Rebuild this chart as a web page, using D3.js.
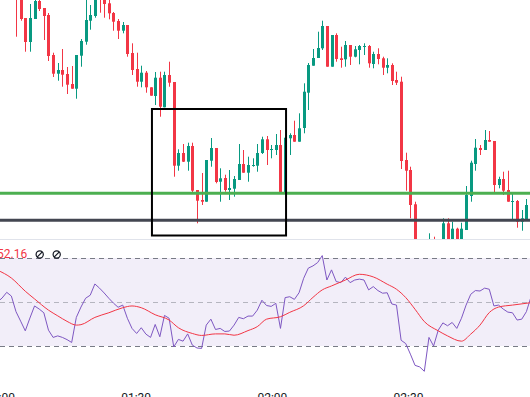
<!DOCTYPE html>
<html>
<head>
<meta charset="utf-8">
<script src="https://cdn.jsdelivr.net/npm/d3@7"></script>
<style>
  html, body { margin: 0; padding: 0; background: #fff; overflow: hidden; }
  svg { display: block; font-family: Roboto, "Noto Sans", sans-serif; }
</style>
</head>
<body>
<div id="chart"></div>
<script>
// ── Candles: one bar per minute, bar 0 is the first one on screen ─────────
const open = [
  2002.5, 2000.6, 1998.2, 1995.8, 1998.1, 1999.9, 1999.2, 1998.5, 1994.5, 1992.63,
  1993.0, 1992.6, 1991.6, 1991.13, 1994.43, 1995.83, 1997.93, 1998.4, 2001.0, 2000.5,
  1999.67, 1998.7, 1997.9, 1996.93, 1997.5, 1994.7, 1993.1, 1991.83, 1992.73, 1991.27,
  1990.4, 1992.23, 1989.27, 1992.5, 1991.8, 1983.43, 1984.7, 1983.83, 1985.4, 1981.0,
  1980.0, 1979.83, 1983.93, 1985.2, 1981.83, 1982.2, 1981.0, 1981.13, 1982.0, 1983.6,
  1982.73, 1983.4, 1983.43, 1984.7, 1986.07, 1985.0, 1985.0, 1985.5, 1980.6, 1986.17,
  1986.5, 1985.83, 1987.2, 1990.73, 1993.43, 1994.2, 1995.17, 1997.4, 1993.33, 1996.5,
  1994.17, 1994.07, 1995.5, 1994.33, 1995.0, 1995.33, 1995.4, 1993.6, 1994.6, 1994.17,
  1993.23, 1993.5, 1992.0, 1991.83, 1984.0, 1983.0, 1979.57, 1974.8, 1973.0, 1972.0,
  1975.5, 1974.5, 1975.0, 1977.67, 1975.5, 1977.13, 1975.6, 1977.0, 1980.4, 1983.6,
  1985.2, 1985.0, 1986.0, 1985.9, 1981.5, 1982.1, 1981.0, 1979.83, 1979.9, 1977.83, 1978.0, 1979.5
];
const high = [
  2003.0, 2001.0, 1998.2, 1999.6, 2000.2, 2000.1, 1999.2, 1998.7, 1994.73, 1993.7,
  1995.1, 1993.3, 1993.4, 1994.5, 1996.1, 2000.1, 1999.5, 2000.6, 2001.4, 2000.8,
  2000.0, 1998.8, 1998.1, 1997.8, 1997.5, 1995.67, 1994.73, 1993.43, 1992.9, 1991.27,
  1992.8, 1992.83, 1992.83, 1993.83, 1991.8, 1985.07, 1985.6, 1985.73, 1985.73, 1981.0,
  1982.7, 1984.0, 1986.2, 1985.2, 1983.17, 1982.53, 1983.0, 1982.4, 1985.6, 1985.0,
  1984.33, 1984.17, 1985.6, 1986.33, 1986.4, 1985.5, 1986.6, 1987.0, 1986.23, 1986.67,
  1987.93, 1988.67, 1991.67, 1993.7, 1995.1, 1996.83, 1997.93, 1997.4, 1996.5, 1996.67,
  1995.33, 1995.9, 1995.5, 1995.4, 1995.5, 1995.67, 1995.5, 1994.83, 1995.17, 1994.33,
  1994.17, 1993.67, 1992.83, 1992.33, 1984.73, 1983.33, 1979.83, 1975.0, 1973.5, 1976.67,
  1976.33, 1975.9, 1978.17, 1978.17, 1977.83, 1977.23, 1977.73, 1981.4, 1983.93, 1986.1,
  1985.5, 1987.0, 1986.9, 1985.9, 1982.33, 1982.83, 1982.93, 1980.67, 1980.0, 1979.0, 1980.1, 1982.43
];
const low = [
  1996.33, 1997.93, 1994.83, 1994.83, 1998.1, 1998.9, 1996.0, 1993.9, 1992.3, 1991.93,
  1991.33, 1990.6, 1991.13, 1990.13, 1993.33, 1995.53, 1997.03, 1998.23, 1998.73, 1998.23,
  1998.07, 1996.93, 1996.1, 1996.67, 1994.33, 1992.5, 1991.33, 1991.27, 1990.73, 1990.43,
  1989.5, 1988.33, 1989.27, 1991.33, 1982.33, 1982.93, 1983.8, 1982.93, 1980.73, 1977.67,
  1979.5, 1979.83, 1983.33, 1981.67, 1979.83, 1980.83, 1980.0, 1980.33, 1982.0, 1982.73,
  1981.83, 1983.33, 1982.83, 1984.6, 1983.5, 1984.17, 1984.5, 1980.77, 1980.6, 1984.5,
  1985.83, 1985.83, 1986.67, 1989.0, 1993.43, 1994.2, 1995.0, 1993.33, 1993.33, 1993.83,
  1993.23, 1993.33, 1993.5, 1994.27, 1993.57, 1994.5, 1993.23, 1993.17, 1993.57, 1992.5,
  1992.67, 1991.5, 1991.5, 1983.1, 1980.93, 1978.17, 1973.8, 1972.2, 1971.0, 1971.6,
  1974.2, 1974.2, 1974.8, 1975.0, 1975.3, 1975.4, 1975.4, 1977.0, 1979.83, 1982.93,
  1984.5, 1985.0, 1985.83, 1980.67, 1981.17, 1980.5, 1979.83, 1978.07, 1977.23, 1976.93, 1978.0, 1979.3
];
const close = [
  2000.8, 1998.1, 1995.8, 1998.2, 1999.9, 1999.1, 1998.4, 1994.4, 1992.63, 1993.0,
  1992.53, 1991.53, 1991.13, 1994.5, 1995.9, 1998.0, 1998.5, 2000.2, 2000.2, 1999.6,
  1998.67, 1997.83, 1996.93, 1997.5, 1994.6, 1993.0, 1991.83, 1992.73, 1991.27, 1990.43,
  1992.23, 1989.33, 1992.5, 1991.73, 1983.43, 1984.7, 1983.83, 1985.4, 1980.93, 1979.93,
  1979.83, 1984.0, 1985.2, 1981.8, 1982.17, 1981.0, 1981.2, 1982.1, 1983.6, 1982.73,
  1983.5, 1983.5, 1984.7, 1986.07, 1985.0, 1985.1, 1985.5, 1980.77, 1986.23, 1986.5,
  1985.83, 1987.17, 1990.83, 1993.5, 1994.2, 1995.2, 1997.4, 1993.33, 1996.5, 1994.1,
  1994.0, 1995.5, 1994.33, 1995.07, 1995.4, 1995.4, 1993.67, 1994.6, 1994.1, 1993.23,
  1993.5, 1991.9, 1991.73, 1983.9, 1982.93, 1979.5, 1974.8, 1973.0, 1972.0, 1975.5,
  1974.5, 1975.7, 1977.67, 1975.5, 1977.13, 1975.6, 1977.13, 1980.5, 1983.73, 1985.23,
  1985.0, 1986.0, 1985.83, 1981.5, 1982.1, 1980.93, 1979.83, 1979.9, 1977.83, 1978.17, 1979.5, 1981.0
];

// ── RSI (one value per bar, starting 4 bars before bar 0) ────────────────
const rsiFirstBar = -4;
const rsi = [
  50.0, 51.8, 54.4, 52.7,
  45.6, 41.3, 36.9, 42.7, 48.2, 46.8, 45.1, 37.2, 33.9, 34.6,
  33.9, 32.9, 31.6, 43.0, 47.7, 51.7, 53.1, 58.2, 56.3, 54.1,
  51.7, 49.5, 47.6, 48.6, 42.6, 38.0, 35.7, 38.3, 35.4, 33.9,
  39.8, 34.2, 43.9, 42.6, 29.6, 33.0, 32.2, 35.5, 30.4, 29.1,
  28.9, 39.5, 42.2, 37.5, 38.0, 36.6, 36.8, 39.5, 43.0, 42.4,
  43.6, 43.6, 46.3, 50.8, 48.4, 48.0, 49.4, 38.0, 52.0, 52.4,
  51.2, 54.2, 60.8, 65.4, 66.4, 67.9, 71.1, 60.0, 64.6, 59.3,
  58.8, 61.3, 58.8, 60.0, 60.4, 60.0, 55.5, 57.0, 55.2, 54.0,
  54.2, 49.1, 48.6, 32.6, 31.1, 26.3, 21.2, 20.5, 18.5, 33.9,
  30.0, 37.2, 40.5, 39.2, 40.7, 38.0, 42.6, 48.6, 53.5, 55.2,
  55.0, 56.3, 55.8, 48.2, 48.6, 46.8, 45.4, 45.1, 41.8, 42.2, 45.6, 52.4
];

// ── RSI moving average, read at a subset of bars ────────────────────────
const maBar = [-4, -1, 2, 4, 7, 9, 11, 13, 14, 17, 20, 23, 25, 27, 30, 33, 35, 38, 40, 43,
  45, 47, 50, 52, 54, 57, 59, 62, 64, 66, 68, 71, 74, 77, 80, 82, 84, 86, 88, 91,
  93, 96, 98, 100, 102, 104, 107, 111];
const maVal = [64.5, 60.9, 54.9, 51.4, 46.3, 43.7, 41.2, 39.5, 39.7, 43.0, 45.1, 47.4, 48.2, 47.4, 44.2, 41.8, 38.3, 35.7, 34.8, 35.5,
  35.5, 34.9, 37.0, 38.8, 42.2, 43.3, 45.3, 48.3, 52.1, 55.5, 57.3, 60.0, 62.6, 61.4, 58.1, 55.8, 52.0, 46.7, 41.1, 36.9,
  34.6, 32.2, 35.4, 39.5, 45.2, 47.7, 48.6, 49.7];

// ── Drawings and labels ─────────────────────────────────────────────────
const supportLevel = 1980.67;
const lowLevel = 1977.97;
const boxBars = [29.3, 58.2];
const boxPrices = [1989.1, 1976.45];
const rsiLevels = [70, 50, 30];
const rsiLabel = "52.16";
const timeTicks = ["01:00", "01:30", "02:00", "02:30"];

// ── Canvas ──────────────────────────────────────────────────────────────
const width = 530;
const height = 397;
const paneBottom = 239;

const up = "#089981";
const down = "#f23645";

const svg = d3.select("#chart")
  .append("svg")
  .attr("width", width)
  .attr("height", height)
  .attr("viewBox", [0, 0, width, height]);

svg.append("rect").attr("width", width).attr("height", height).attr("fill", "#fff");

const defs = svg.append("defs");
defs.append("clipPath").attr("id", "clip-main")
  .append("rect").attr("x", 0).attr("y", 0).attr("width", width).attr("height", paneBottom);
defs.append("clipPath").attr("id", "clip-rsi")
  .append("rect").attr("x", 0).attr("y", paneBottom + 1).attr("width", width).attr("height", 148);

// ── Scales ──────────────────────────────────────────────────────────────
const x = d3.scaleLinear().domain([0, 110]).range([16, 526.4]);
const y = d3.scaleLinear().domain([1976, 2000]).range([240, 0]);
const yR = d3.scaleLinear().domain([30, 70]).range([346, 258]);
const parseT = d3.timeParse("%H:%M");
const t = d3.scaleTime()
  .domain([parseT("01:00"), parseT("02:30")])
  .range([-0.5, 408]);

// ── Candles ─────────────────────────────────────────────────────────────
const bars = open.map((o, i) => ({ i, o, h: high[i], l: low[i], c: close[i] }));

const gMain = svg.append("g").attr("clip-path", "url(#clip-main)");

const gCandle = gMain.append("g").selectAll("g")
  .data(bars)
  .join("g")
  .attr("fill", d => d.c >= d.o ? up : down);

gCandle.append("rect")
  .attr("x", d => Math.round(x(d.i)))
  .attr("width", 1)
  .attr("y", d => y(d.h))
  .attr("height", d => Math.max(1, y(d.l) - y(d.h)));

gCandle.append("rect")
  .attr("x", d => Math.round(x(d.i)) - 1)
  .attr("width", 3)
  .attr("y", d => y(Math.max(d.o, d.c)))
  .attr("height", d => Math.max(1, Math.abs(y(d.o) - y(d.c))));

// ── Horizontal levels and box ───────────────────────────────────────────
gMain.append("line")
  .attr("x1", 0).attr("x2", width)
  .attr("y1", y(supportLevel)).attr("y2", y(supportLevel))
  .attr("stroke", "#4caf50").attr("stroke-width", 3);

gMain.append("line")
  .attr("x1", 0).attr("x2", width)
  .attr("y1", y(lowLevel)).attr("y2", y(lowLevel))
  .attr("stroke", "#434651").attr("stroke-width", 3);

gMain.append("rect")
  .attr("x", x(boxBars[0]))
  .attr("y", y(boxPrices[0]))
  .attr("width", x(boxBars[1]) - x(boxBars[0]))
  .attr("height", y(boxPrices[1]) - y(boxPrices[0]))
  .attr("fill", "none")
  .attr("stroke", "#000")
  .attr("stroke-width", 2);

// pane separator
svg.append("line")
  .attr("x1", 0).attr("x2", width)
  .attr("y1", paneBottom + 0.5).attr("y2", paneBottom + 0.5)
  .attr("stroke", "#e0e3eb");

// ── RSI pane ────────────────────────────────────────────────────────────
const gRsi = svg.append("g").attr("clip-path", "url(#clip-rsi)");

gRsi.append("rect")
  .attr("x", 0).attr("width", width)
  .attr("y", yR(70)).attr("height", yR(30) - yR(70))
  .attr("fill", "#7e57c2").attr("fill-opacity", 0.1);

gRsi.selectAll("line.level")
  .data(rsiLevels)
  .join("line")
  .attr("class", "level")
  .attr("x1", 0).attr("x2", width)
  .attr("y1", d => Math.round(yR(d)) + 0.5).attr("y2", d => Math.round(yR(d)) + 0.5)
  .attr("stroke", "#787b86")
  .attr("stroke-opacity", d => d === 50 ? 0.5 : 1)
  .attr("stroke-dasharray", "5,4");

const rsiLine = d3.line()
  .x((d, k) => x(rsiFirstBar + k))
  .y(d => yR(d));

gRsi.append("path")
  .attr("d", rsiLine(rsi))
  .attr("fill", "none")
  .attr("stroke", "#7e57c2")
  .attr("stroke-width", 1);

const maLine = d3.line()
  .x(d => x(d[0]))
  .y(d => yR(d[1]))
  .curve(d3.curveMonotoneX);

gRsi.append("path")
  .attr("d", maLine(d3.zip(maBar, maVal)))
  .attr("fill", "none")
  .attr("stroke", "#f23645")
  .attr("stroke-width", 1);

// legend value and icons
svg.append("text")
  .attr("x", -3).attr("y", 257.5)
  .attr("fill", "#f23645")
  .attr("font-size", 12)
  .text(rsiLabel);

const icons = svg.append("g").selectAll("g")
  .data([39.7, 56.7])
  .join("g")
  .attr("transform", d => `translate(${d},254.5)`)
  .attr("stroke", "#131722")
  .attr("stroke-width", 1.2)
  .attr("fill", "none");
icons.append("circle").attr("r", 3.6);
icons.append("line").attr("x1", -2.6).attr("y1", 2.6).attr("x2", 2.6).attr("y2", -2.6);

// ── Time axis ───────────────────────────────────────────────────────────
const axis = d3.axisBottom(t)
  .tickValues(timeTicks.map(parseT))
  .tickFormat(d3.timeFormat("%H:%M"))
  .tickSize(0)
  .tickPadding(3);

const gAxis = svg.append("g")
  .attr("transform", "translate(0,390)")
  .call(axis);
gAxis.select(".domain").remove();
gAxis.selectAll("text")
  .attr("fill", "#131722")
  .attr("font-size", 12)
  .attr("font-family", "Roboto, 'Noto Sans', sans-serif");
</script>
</body>
</html>
